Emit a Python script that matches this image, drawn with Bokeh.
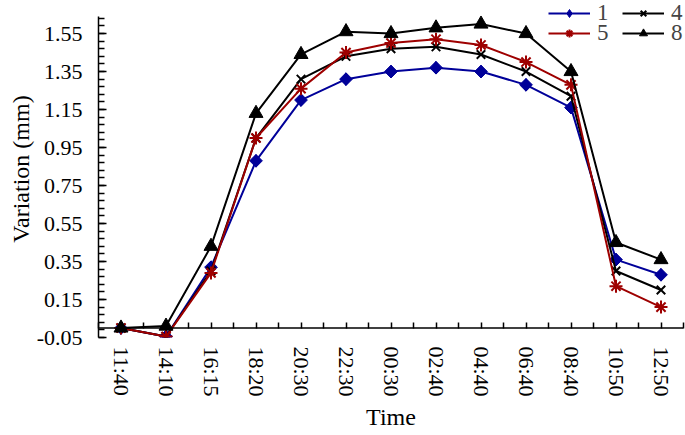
from bokeh.plotting import figure
from bokeh.models import FixedTicker, Legend, LegendItem, Span, Range1d, PrintfTickFormatter
from bokeh.embed import file_html
from bokeh.resources import INLINE

times = ["11:40", "14:10", "16:15", "18:20", "20:30", "22:30", "00:30",
         "02:40", "04:40", "06:40", "08:40", "10:50", "12:50"]
s1 = [0.00, -0.045, 0.32, 0.88, 1.20, 1.31, 1.35, 1.37, 1.35, 1.28, 1.16, 0.36, 0.28]
s4 = [0.00, -0.045, 0.30, 1.00, 1.31, 1.43, 1.47, 1.48, 1.44, 1.35, 1.22, 0.30, 0.20]
s5 = [0.00, -0.045, 0.29, 1.00, 1.26, 1.45, 1.50, 1.52, 1.49, 1.40, 1.28, 0.22, 0.11]
s8 = [0.00, 0.01, 0.43, 1.13, 1.44, 1.56, 1.55, 1.58, 1.60, 1.55, 1.35, 0.45, 0.36]
y_ticks = [-0.05, 0.15, 0.35, 0.55, 0.75, 0.95, 1.15, 1.35, 1.55]
y_axis_min, y_axis_max = -0.05, 1.64

FONT = "Liberation Serif"
xs = list(range(len(times)))

# frame reaches the top edge so the legend (drawn inside the frame) is not clipped;
# the y axis itself is bounded to y_axis_min..y_axis_max
p = figure(width=685, height=435, x_range=Range1d(-0.5, 12.5), y_range=Range1d(y_axis_min, 1.724),
           output_backend="svg", toolbar_location=None,
           min_border_left=98, min_border_right=2, min_border_top=0, min_border_bottom=98)
p.grid.visible = False
p.outline_line_color = None

# y axis
minor_y = [round(-0.05 + 0.04 * k, 2) for k in range(43)]
p.yaxis.ticker = FixedTicker(ticks=y_ticks, minor_ticks=minor_y)
p.yaxis.bounds = (y_axis_min, y_axis_max)
p.yaxis.formatter = PrintfTickFormatter(format="%.2f")
p.yaxis.major_tick_in = 8
p.yaxis.major_tick_out = 0
p.yaxis.minor_tick_in = 6
p.yaxis.minor_tick_out = 0
p.yaxis.axis_line_width = 1.5
p.yaxis.major_tick_line_width = 1.5
p.yaxis.minor_tick_line_width = 1.5
p.yaxis.major_label_text_font = FONT
p.yaxis.major_label_text_font_size = "22px"
p.yaxis.major_label_text_color = "black"
p.yaxis.major_label_standoff = 16
p.yaxis.axis_label = "Variation (mm)"
p.yaxis.axis_label_text_font = FONT
p.yaxis.axis_label_text_font_size = "24px"
p.yaxis.axis_label_text_font_style = "normal"
p.yaxis.axis_label_text_color = "black"
p.yaxis.axis_label_standoff = 0

# x axis
p.xaxis.ticker = FixedTicker(ticks=xs, minor_ticks=[i - 0.5 for i in range(len(times) + 1)])
p.xaxis.major_label_overrides = {i: t for i, t in enumerate(times)}
p.xaxis.major_label_orientation = "vertical"
p.xaxis.axis_line_color = None
p.xaxis.major_tick_in = 15
p.xaxis.major_tick_out = -9
p.xaxis.minor_tick_in = 15
p.xaxis.minor_tick_out = -9
p.xaxis.major_tick_line_width = 1.5
p.xaxis.minor_tick_line_width = 1.5
p.xaxis.major_label_text_font = FONT
p.xaxis.major_label_text_font_size = "22px"
p.xaxis.major_label_text_color = "black"
p.xaxis.major_label_standoff = 18
p.xaxis.axis_label = "Time"
p.xaxis.axis_label_text_font = FONT
p.xaxis.axis_label_text_font_size = "24px"
p.xaxis.axis_label_text_font_style = "normal"
p.xaxis.axis_label_text_color = "black"
p.xaxis.axis_label_standoff = 4

p.add_layout(Span(location=0, dimension="width", line_color="black", line_width=1.5))

BLUE = "#000099"
RED = "#9E0000"

l1 = p.line(xs, s1, line_color=BLUE, line_width=2)
# diamond used as legend key; it sits hidden beneath the rotated-square markers
m1_key = p.scatter(xs, s1, marker="diamond", size=12.5, fill_color=BLUE, line_color=BLUE)
m1 = p.scatter(xs, s1, marker="square", angle=0.7854, size=9, fill_color=BLUE, line_color=BLUE)
l4 = p.line(xs, s4, line_color="black", line_width=2)
m4 = p.scatter(xs, s4, marker="x", size=12, line_color="black", line_width=2)
l5 = p.line(xs, s5, line_color=RED, line_width=2)
m5 = p.scatter(xs, s5, marker="asterisk", size=13, line_color=RED, line_width=2)
l8 = p.line(xs, s8, line_color="black", line_width=2)
m8 = p.scatter(xs, s8, marker="triangle", size=14, fill_color="black", line_color="black")

legend_style = dict(orientation="horizontal", glyph_width=42, glyph_height=20,
                    label_text_font=FONT, label_text_font_size="23px", label_standoff=7,
                    label_text_line_height=0.9, label_height=20,
                    label_width=18, spacing=7, padding=0, margin=0,
                    background_fill_alpha=0, border_line_alpha=0)
legend_row1 = Legend(items=[LegendItem(label="1", renderers=[l1, m1_key]),
                            LegendItem(label="4", renderers=[l4, m4])],
                     location=(450, 311), **legend_style)
legend_row2 = Legend(items=[LegendItem(label="5", renderers=[l5, m5]),
                            LegendItem(label="8", renderers=[l8, m8])],
                     location=(450, 291), **legend_style)
p.add_layout(legend_row1, "center")
p.add_layout(legend_row2, "center")

open("out.html", "w").write(file_html(p, INLINE))
